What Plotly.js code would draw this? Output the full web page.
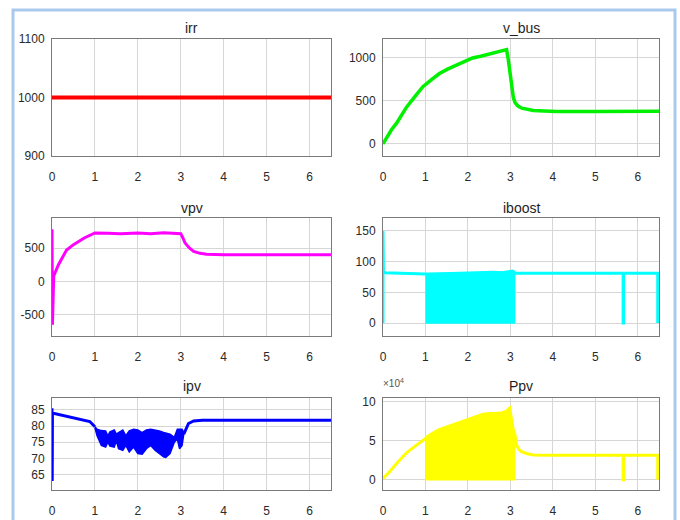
<!DOCTYPE html>
<html>
<head>
<meta charset="utf-8">
<script src="https://cdn.plot.ly/plotly-3.0.1.min.js"></script>
<style>html,body{margin:0;padding:0;background:#fff;}#chart{width:680px;height:520px;}</style>
</head>
<body>
<div id="chart"></div>
<script>
// ---------- data ----------
var titles = ["irr", "v_bus", "vpv", "iboost", "ipv", "Ppv"];
var xTicks = [0, 1, 2, 3, 4, 5, 6];

var irrT = [0, 6.5];
var irrV = [1000, 1000];

var vbusT = [0, 0.1, 0.2, 0.32, 0.45, 0.55, 0.75, 0.94, 1.15, 1.33, 1.52, 1.72, 1.9, 2.11, 2.3, 2.5, 2.7, 2.86, 2.91, 2.95, 3.0, 3.03, 3.07, 3.11, 3.18, 3.27, 3.4, 3.54, 3.8, 4.09, 5, 6, 6.5];
var vbusV = [0, 85, 165, 242, 350, 425, 550, 665, 750, 819, 870, 915, 960, 1000, 1020, 1046, 1068, 1088, 1096, 981, 760, 635, 540, 481, 440, 416, 398, 388, 382, 378, 378, 380, 380];

var vpvT = [0, 0.01, 0.04, 0.15, 0.34, 0.5, 0.75, 1.0, 1.3, 1.6, 2.0, 2.3, 2.6, 2.9, 3.0, 3.05, 3.1, 3.2, 3.3, 3.45, 3.6, 4, 5, 6, 6.5];
var vpvV = [780, -650, 80, 250, 470, 550, 650, 725, 720, 715, 725, 715, 730, 720, 715, 650, 575, 500, 450, 420, 405, 398, 398, 400, 400];

var iboostT = [0, 0, 0.01, 0.05, 0.3, 0.6, 1.0, 3.1, 3.5, 4, 5, 5.655, 5.655, 5.665, 5.665, 6, 6.47, 6.47];
var iboostV = [0, 150, 84, 82, 81.5, 81, 80, 81, 81, 81, 81, 81, 0, 0, 81, 81, 81, 0];
var iboostBandT = [1.0, 1.2, 1.4, 1.6, 1.8, 2.0, 2.2, 2.4, 2.6, 2.8, 2.95, 3.05, 3.1];
var iboostBandHi = [80, 81, 81.5, 82, 82.5, 83, 83, 84, 84, 83, 85, 86, 84];
var iboostBandLo = [0, 0, 0, 0, 0, 0, 0, 0, 0, 0, 0, 0, 0];

var ipvPreT = [0, 0.005, 0.01, 0.03, 0.3, 0.6, 0.88, 1.0];
var ipvPreV = [85.5, 63, 84, 84, 83.2, 82.4, 81.4, 79.8];
var ipvPostT = [3.07, 3.1, 3.18, 3.3, 3.5, 4, 5, 6, 6.5];
var ipvPostV = [77.5, 78.5, 80.8, 81.6, 81.8, 81.8, 81.8, 81.8, 81.8];
var ipvBandT = [1.0, 1.05, 1.15, 1.25, 1.3, 1.35, 1.45, 1.5, 1.55, 1.65, 1.72, 1.8, 1.9, 2.0, 2.1, 2.2, 2.3, 2.4, 2.5, 2.6, 2.65, 2.75, 2.85, 2.92, 2.97, 3.03, 3.07];
var ipvBandHi = [79.8, 79, 78.6, 78.5, 77, 78.2, 78.8, 77.5, 78, 78.8, 77, 78.5, 79, 78.8, 78, 78.8, 79, 78.8, 78.5, 78, 77.8, 77.5, 76.5, 79, 79, 79, 78];
var ipvBandLo = [79.5, 77, 74, 73.5, 75, 73.8, 73.5, 75.5, 73, 72.5, 74, 72, 73.5, 71.5, 71.3, 73, 74, 72.5, 71.5, 70.5, 70.3, 71.5, 75, 76, 73, 74, 77.5];

var ppvPreT = [0, 0.15, 0.32, 0.45, 0.56, 0.68, 0.79, 0.9, 1.0];
var ppvPreV = [2000, 10000, 21000, 29000, 35000, 40000, 44500, 49000, 53000];
var ppvPostT = [3.1, 3.15, 3.2, 3.27, 3.4, 3.54, 4, 5, 5.655, 5.655, 5.665, 5.665, 6, 6.47, 6.47];
var ppvPostV = [60000, 44500, 39000, 36000, 33500, 32000, 31500, 31500, 31500, 0, 0, 31500, 31500, 31500, 0];
var ppvBandT = [1.0, 1.1, 1.2, 1.3, 1.4, 1.5, 1.6, 1.75, 1.9, 2.0, 2.1, 2.2, 2.35, 2.5, 2.65, 2.8, 2.9, 2.95, 3.0, 3.05, 3.1];
var ppvBandHi = [55000, 59000, 62000, 65000, 67000, 69000, 71000, 73000, 76000, 79000, 80000, 82000, 85000, 86000, 86000, 87000, 89000, 92000, 94000, 75000, 60000];
var ppvBandLo = [0, 0, 0, 0, 0, 0, 0, 0, 0, 0, 0, 0, 0, 0, 0, 0, 0, 0, 0, 0, 0];

var yRanges = [[900, 1100], [-140, 1220], [-820, 950], [-21, 171], [60.2, 88.7], [-13000, 105000]];
var yTickVals = [[900, 1000, 1100], [0, 500, 1000], [-500, 0, 500], [0, 50, 100, 150], [65, 70, 75, 80, 85], [0, 50000, 100000]];
var yTickText = [["900", "1000", "1100"], ["0", "500", "1000"], ["-500", "0", "500"], ["0", "50", "100", "150"], ["65", "70", "75", "80", "85"], ["0", "5", "10"]];

// ---------- layout geometry (pixels) ----------
var W = 680, H = 520;
var colPx = [[52, 331], [383, 659]];
var rowPx = [[39, 156], [218, 336], [398, 490]];
var titleY = [28, 208, 386];

function band(t, hi, lo) {
  var x = t.concat(t.slice().reverse());
  var y = hi.concat(lo.slice().reverse());
  return {x: x, y: y};
}

function line(x, y, color, k, w) {
  return {x: x, y: y, type: 'scatter', mode: 'lines', line: {color: color, width: w || 3, shape: 'linear'},
          xaxis: 'x' + (k === 1 ? '' : k), yaxis: 'y' + (k === 1 ? '' : k), hoverinfo: 'skip'};
}
function fillTrace(b, color, k) {
  return {x: b.x, y: b.y, type: 'scatter', mode: 'lines', fill: 'toself', fillcolor: color,
          line: {color: color, width: 1.5}, xaxis: 'x' + (k === 1 ? '' : k), yaxis: 'y' + (k === 1 ? '' : k), hoverinfo: 'skip'};
}

var traces = [
  line(irrT, irrV, '#ff0000', 1, 4),
  line(vbusT, vbusV, '#00f000', 2, 3.5),
  line(vpvT, vpvV, '#ff00ff', 3, 3),
  fillTrace(band(iboostBandT, iboostBandHi, iboostBandLo), '#00ffff', 4),
  line(iboostT, iboostV, '#00ffff', 4, 3),
  fillTrace(band(ipvBandT, ipvBandHi, ipvBandLo), '#0000ff', 5),
  line(ipvPreT, ipvPreV, '#0000ff', 5, 3),
  line(ipvPostT, ipvPostV, '#0000ff', 5, 3),
  fillTrace(band(ppvBandT, ppvBandHi, ppvBandLo), '#ffff00', 6),
  line(ppvPreT, ppvPreV, '#ffff00', 6, 3),
  line(ppvPostT, ppvPostV, '#ffff00', 6, 3)
];

var tickFont = {family: 'Liberation Sans, Arial, sans-serif', size: 12, color: '#2a2a2a'};
var layout = {
  width: W, height: H,
  margin: {l: 0, r: 0, t: 0, b: 0},
  paper_bgcolor: '#ffffff', plot_bgcolor: '#ffffff',
  showlegend: false,
  shapes: [{type: 'rect', xref: 'paper', yref: 'paper', x0: 13 / W, x1: 675 / W, y0: -0.05, y1: 1 - 10 / H,
            line: {color: '#a9c9ee', width: 3}, fillcolor: 'rgba(0,0,0,0)'}],
  annotations: []
};

for (var i = 0; i < 6; i++) {
  var k = i + 1;
  var c = colPx[i % 2], r = rowPx[Math.floor(i / 2)];
  var xa = 'xaxis' + (k === 1 ? '' : k), ya = 'yaxis' + (k === 1 ? '' : k);
  layout[xa] = {
    domain: [c[0] / W, c[1] / W], range: [0, 6.5], tickvals: xTicks,
    showline: true, mirror: true, linecolor: '#7a7a7a', linewidth: 1,
    showgrid: true, gridcolor: '#d6d6d6', zeroline: false, ticks: '',
    ticklabelstandoff: 10, tickfont: tickFont, fixedrange: true,
    anchor: 'y' + (k === 1 ? '' : k)
  };
  layout[ya] = {
    domain: [1 - r[1] / H, 1 - r[0] / H], range: yRanges[i],
    tickvals: yTickVals[i], ticktext: yTickText[i],
    showline: true, mirror: true, linecolor: '#7a7a7a', linewidth: 1,
    showgrid: true, gridcolor: '#d6d6d6', zeroline: false, ticks: '',
    ticklabelstandoff: 4, tickfont: tickFont, fixedrange: true,
    anchor: 'x' + (k === 1 ? '' : k)
  };
  layout.annotations.push({
    text: titles[i], xref: 'paper', yref: 'paper', showarrow: false,
    x: (c[0] + c[1]) / 2 / W, y: 1 - titleY[Math.floor(i / 2)] / H,
    xanchor: 'center', yanchor: 'middle',
    font: {family: 'Liberation Sans, Arial, sans-serif', size: 14, color: '#1e1e1e'}
  });
}
layout.annotations.push({
  text: '\u00d710<sup>4</sup>', xref: 'paper', yref: 'paper', showarrow: false,
  x: 381 / W, y: 1 - 391 / H, xanchor: 'left', yanchor: 'bottom',
  font: {family: 'Liberation Sans, Arial, sans-serif', size: 10, color: '#555555'}
});

Plotly.newPlot('chart', traces, layout, {displayModeBar: false, staticPlot: true});
</script>
</body>
</html>
